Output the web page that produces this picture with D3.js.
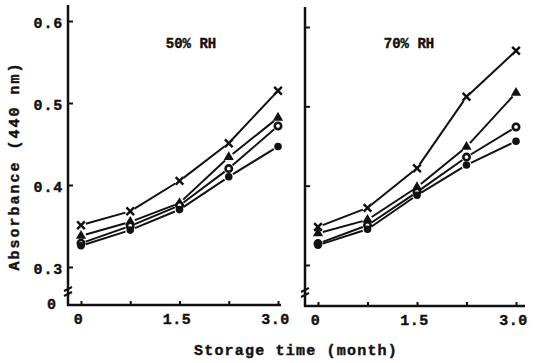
<!DOCTYPE html>
<html>
<head>
<meta charset="utf-8">
<script src="https://cdn.jsdelivr.net/npm/d3@7"></script>
<style>
  body { margin: 0; background: #fff; }
  text { font-family: "Liberation Mono", "DejaVu Sans Mono", monospace; font-weight: bold; fill: #111; stroke: #111; stroke-width: 0.4px; }
</style>
</head>
<body>
<svg id="chart" width="536" height="363"></svg>
<script>
// storage time (month) of each reading
const months = [0, 0.75, 1.5, 2.25, 3.0];
const xTickLabels = ['0', '1.5', '3.0'];
const yTicks = [0.3, 0.4, 0.5, 0.6];
const panelTitles = ['50% RH', '70% RH'];

// 50% RH
const rh50Cross    = [0.351, 0.368, 0.405, 0.451, 0.515];
const rh50Triangle = [0.338, 0.355, 0.378, 0.434, 0.482];
const rh50Ring     = [0.329, 0.350, 0.375, 0.420, 0.472];
const rh50Dot      = [0.326, 0.345, 0.370, 0.410, 0.447];

// 70% RH
const rh70Cross    = [0.348, 0.372, 0.422, 0.512, 0.570];
const rh70Triangle = [0.340, 0.357, 0.398, 0.449, 0.517];
const rh70Ring     = [0.327, 0.350, 0.392, 0.436, 0.474];
const rh70Dot      = [0.325, 0.345, 0.388, 0.426, 0.456];

const ink = '#111';
const svg = d3.select('#chart');

const panels = [
  { title: panelTitles[0], axisX: 68, xRange: [81, 278], yRange: [267, 21], top: 5, right: 281, base: 305, labels: true,
    series: [['cross', rh50Cross], ['triangle', rh50Triangle], ['ring', rh50Ring], ['dot', rh50Dot]], titleX: 191 },
  { title: panelTitles[1], axisX: 305, xRange: [318, 516], yRange: [265, 27], top: 7, right: 525, base: 306, labels: false,
    series: [['cross', rh70Cross], ['triangle', rh70Triangle], ['ring', rh70Ring], ['dot', rh70Dot]], titleX: 409 },
];

panels.forEach(p => {
  const x = d3.scaleLinear().domain([0, 3]).range(p.xRange);
  const y = d3.scaleLinear().domain([0.3, 0.6]).range(p.yRange);
  const g = svg.append('g');

  // axis lines
  g.append('line').attr('x1', p.axisX).attr('x2', p.axisX).attr('y1', p.top).attr('y2', p.base + 1)
    .attr('stroke', ink).attr('stroke-width', 2.5);
  g.append('line').attr('x1', p.axisX - 1).attr('x2', p.right).attr('y1', p.base).attr('y2', p.base)
    .attr('stroke', ink).attr('stroke-width', 2.5);

  // axis break marks
  const bk = p.base - 13;
  [-3, 2].forEach(o => {
    g.append('path')
      .attr('d', `M${p.axisX - 4},${bk + o + 2} L${p.axisX + 4},${bk + o - 2}`)
      .attr('stroke', ink).attr('stroke-width', 2).attr('fill', 'none');
  });

  // y ticks
  const yAxis = g.append('g')
    .attr('transform', `translate(${p.axisX},0)`)
    .call(d3.axisLeft(y).tickValues(yTicks).tickSizeInner(-5).tickSizeOuter(0)
      .tickFormat(p.labels ? d3.format('.1f') : () => ''));
  yAxis.select('.domain').remove();
  yAxis.selectAll('.tick line').attr('stroke', ink).attr('stroke-width', 2);
  yAxis.selectAll('.tick text').attr('x', -5).attr('dy', '0.45em')
    .style('font-size', '15px').style('letter-spacing', '0.8px');
  if (p.labels) {
    g.append('text').attr('x', p.axisX - 12).attr('y', p.base + 4)
      .attr('text-anchor', 'end').style('font-size', '15px').text('0');
  }

  // x ticks
  const xAxis = g.append('g')
    .attr('transform', `translate(0,${p.base})`)
    .call(d3.axisBottom(x).tickValues(months).tickSizeInner(-4).tickSizeOuter(0)
      .tickFormat(d => xTickLabels[[0, 1.5, 3].indexOf(d)] || ''));
  xAxis.select('.domain').remove();
  xAxis.selectAll('.tick line').attr('stroke', ink).attr('stroke-width', 2);
  xAxis.selectAll('.tick text').attr('y', 8).attr('dy', '0.71em').attr('dx', -3)
    .style('font-size', '15px').style('letter-spacing', '0.5px');

  // panel title
  g.append('text').attr('x', p.titleX).attr('y', 48).attr('text-anchor', 'middle')
    .style('font-size', '14px').text(p.title);

  // lines, broken just before each marker
  const gap = 5;
  p.series.forEach(([shape, vals]) => {
    const pts = vals.map((v, i) => [x(months[i]), y(v)]);
    d3.pairs(pts).forEach(([a, b]) => {
      const dx = b[0] - a[0], dy = b[1] - a[1], len = Math.hypot(dx, dy);
      const ux = dx / len, uy = dy / len;
      g.append('line')
        .attr('x1', a[0] + ux * gap).attr('y1', a[1] + uy * gap)
        .attr('x2', b[0] - ux * gap).attr('y2', b[1] - uy * gap)
        .attr('stroke', ink).attr('stroke-width', 2);
    });

    const marks = g.selectAll(null).data(pts).enter();
    if (shape === 'cross') {
      marks.append('path').attr('d', d3.symbol(d3.symbolX, 40)())
        .attr('transform', d => `translate(${d[0]},${d[1]})`)
        .attr('stroke', ink).attr('stroke-width', 2.5).attr('fill', 'none');
    } else if (shape === 'triangle') {
      marks.append('path').attr('d', d3.symbol(d3.symbolTriangle, 45)())
        .attr('transform', d => `translate(${d[0]},${d[1]})`)
        .attr('fill', ink);
    } else if (shape === 'ring') {
      marks.append('circle').attr('cx', d => d[0]).attr('cy', d => d[1]).attr('r', 3.2)
        .attr('fill', '#fff').attr('stroke', ink).attr('stroke-width', 2.6);
    } else {
      marks.append('circle').attr('cx', d => d[0]).attr('cy', d => d[1]).attr('r', 3.8)
        .attr('fill', ink);
    }
  });
});

// axis titles
svg.append('text')
  .attr('transform', 'translate(19,166) rotate(-90)')
  .attr('text-anchor', 'middle')
  .style('font-size', '15px').style('letter-spacing', '2px')
  .text('Absorbance (440 nm)');

svg.append('text')
  .attr('x', 296).attr('y', 355)
  .attr('text-anchor', 'middle')
  .style('font-size', '15px').style('letter-spacing', '1.2px')
  .text('Storage time (month)');
</script>
</body>
</html>
